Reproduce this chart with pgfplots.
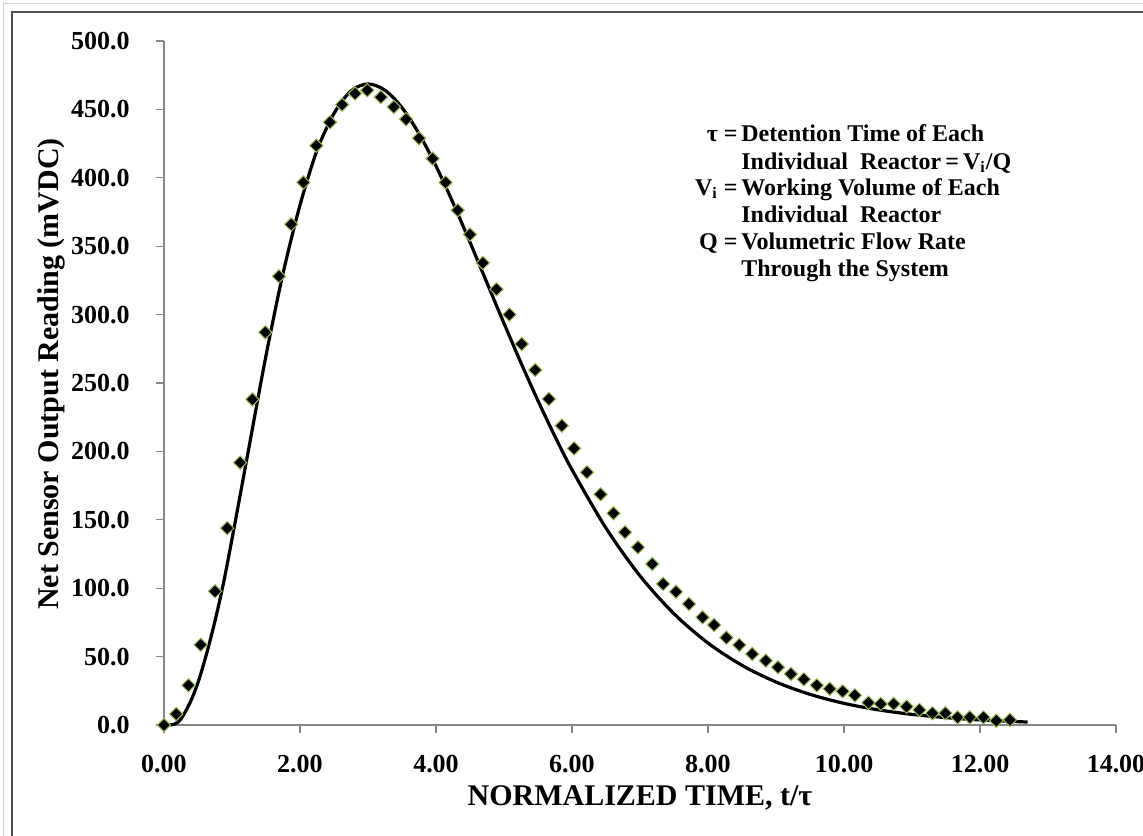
\documentclass[border=0pt]{standalone}
\usepackage{fontspec}
\setmainfont{Liberation Serif}
\usepackage{pgfplots}
\pgfplotsset{compat=1.18}

\definecolor{axisgray}{RGB}{134,134,134}
\definecolor{markedge}{RGB}{155,187,89}
\definecolor{framedark}{RGB}{80,80,80}
\definecolor{framelight}{RGB}{208,208,208}

% measured points (diamonds)
\pgfplotstableread{
t v
0.00 0
0.18 8
0.36 29
0.54 58.6
0.75 97.7
0.93 143.9
1.12 191.8
1.30 238
1.49 287
1.69 328
1.87 366
2.05 396.6
2.24 423.5
2.44 440.6
2.62 453.5
2.81 461.6
2.99 464
3.19 459
3.38 451.8
3.56 442.8
3.75 428.9
3.95 414
4.14 396.6
4.32 376.3
4.50 358.5
4.69 337.8
4.89 318.5
5.08 300
5.26 278.5
5.46 259.5
5.66 238.3
5.85 218.8
6.03 202.2
6.22 184.7
6.42 168.6
6.61 154.8
6.78 140.9
6.97 129.9
7.18 117.7
7.34 103.1
7.53 97.4
7.72 88.5
7.92 78.7
8.09 73.1
8.27 63.8
8.46 58.5
8.65 51.9
8.85 47
9.03 42.2
9.22 37.3
9.41 33.4
9.60 29.0
9.79 26.5
9.98 24.6
10.16 21.7
10.36 16.3
10.54 15.4
10.73 15.4
10.92 13.4
11.11 11
11.30 8.6
11.49 8.6
11.67 5.6
11.85 5.6
12.05 5.6
12.24 3.1
12.44 3.7
}\measured

% model curve
\pgfplotstableread{
t v
0.00 0
0.15 0.5
0.25 4.5
0.38 16
0.50 31
0.62 51
0.75 76
0.88 105
1.00 136
1.12 168
1.25 203
1.50 270
1.75 330
2.00 380
2.25 420
2.50 447
2.75 463.5
3.00 468.6
3.25 464
3.50 451.3
3.75 432.3
4.00 408.6
4.25 381.7
4.50 352.9
4.75 323.2
5.00 293.6
5.25 264.7
5.50 237
5.75 210.9
6.00 186.6
6.50 143.9
7.00 109
7.50 81.3
8.00 59.9
8.50 43.6
9.00 31.4
9.50 22.4
10.00 15.8
10.50 11.1
11.00 7.75
11.50 5.37
12.00 3.7
12.50 2.54
12.70 2.18
}\model

\begin{document}
\begin{tikzpicture}
\begin{axis}[
    scale only axis,
    width=476pt, height=342pt,
    xmin=0, xmax=14, ymin=0, ymax=500,
    xtick distance=2, ytick distance=50,
    axis x line=bottom, axis y line=left,
    axis line style={-, axisgray, line width=0.6pt},
    tick style={axisgray, line width=0.6pt},
    tick align=outside,
    major tick length=4pt,
    clip=false,
    /pgf/number format/assume math mode=true,
    ticklabel style={font=\fontsize{13}{15}\selectfont\bfseries},
    xticklabel style={/pgf/number format/fixed, /pgf/number format/fixed zerofill, /pgf/number format/precision=2,
        anchor=north, inner sep=0pt, yshift=-11pt},
    yticklabel style={/pgf/number format/fixed, /pgf/number format/fixed zerofill, /pgf/number format/precision=1,
        anchor=east, inner sep=0pt, xshift=-13pt},
    xlabel={NORMALIZED TIME, t/τ},
    ylabel={Net Sensor Output Reading (mVDC)},
    label style={font=\fontsize{15}{18}\selectfont\bfseries},
    xlabel style={at={(rel axis cs:0.5,-0.1184)}, anchor=base},
    ylabel style={at={(rel axis cs:-0.1103,0.513)}, anchor=base},
]
\coordinate (bbsw) at (rel axis cs:-0.17227,-0.16228);
\coordinate (bbne) at (rel axis cs:1.02836,1.05994);
\draw[framelight, line width=0.5pt] (rel axis cs:-0.16807,-0.17) -- (rel axis cs:-0.16807,1.05409) -- (rel axis cs:1.03,1.05409);
\draw[framedark, line width=0.75pt] (rel axis cs:-0.15966,-0.17) -- (rel axis cs:-0.15966,1.04240) -- (rel axis cs:1.03,1.04240);

\addplot[black, line width=1.6pt, smooth, tension=0.5] table[x=t, y=v] {\model};
\addplot[only marks, mark=square*, mark size=2.35pt,
  mark options={rotate=45, fill=black, draw=markedge, line width=0.5pt}]
  table[x=t, y=v] {\measured};

\begin{scope}[every node/.style={inner sep=0pt, font=\fontsize{12}{14}\selectfont\bfseries}]
\node[anchor=base east] at (axis cs:8.44,426.5) {τ =};
\node[anchor=base west] at (axis cs:8.485,426.5) {Detention Time of Each};
\node[anchor=base west] at (axis cs:8.485,406.4) {Individual\ \ Reactor\,=\,V\textsubscript{i}/Q};
\node[anchor=base east] at (axis cs:8.44,387.4) {V\textsubscript{i} =};
\node[anchor=base west] at (axis cs:8.485,387.4) {Working Volume of Each};
\node[anchor=base west] at (axis cs:8.485,367.3) {Individual\ \ Reactor};
\node[anchor=base east] at (axis cs:8.44,347.6) {Q =};
\node[anchor=base west] at (axis cs:8.485,347.6) {Volumetric Flow Rate};
\node[anchor=base west] at (axis cs:8.485,327.9) {Through the System};
\end{scope}
\end{axis}
\pgfresetboundingbox
\useasboundingbox (bbsw) rectangle (bbne);
\end{tikzpicture}
\end{document}
